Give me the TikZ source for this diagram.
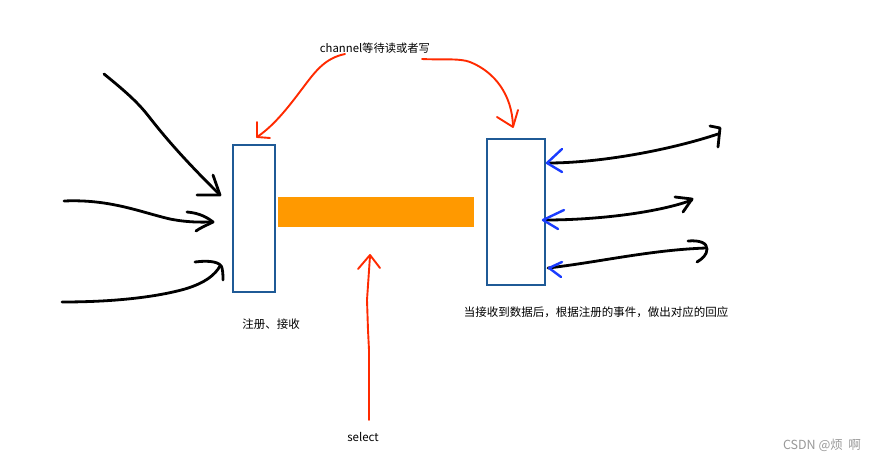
\documentclass[tikz,border=0pt]{standalone}
\usepackage{fontspec}
\setmainfont{Noto Sans CJK SC}
\begin{document}
\begin{tikzpicture}[x=1pt,y=-1pt,
  box/.style={draw=boxblue,line width=2.2pt,fill=white,inner sep=0pt},
  ink/.style={line width=2.8pt,line cap=round,line join=round},
  redink/.style={draw=penred,line width=1.9pt,line cap=round,line join=round},
  blueink/.style={draw=penblue,line width=2.4pt,line cap=round,line join=round},
  lbl/.style={inner sep=0pt,font=\fontsize{11.5}{13}\selectfont}]
\definecolor{boxblue}{HTML}{1F5A96}
\definecolor{barorange}{HTML}{FF9900}
\definecolor{penred}{HTML}{FF2A00}
\definecolor{penblue}{HTML}{1A3CFF}
\useasboundingbox[fill=white] (0,0) rectangle (883,463);

% boxes and bar
\node[box,minimum width=42pt,minimum height=147pt,anchor=north west] (L) at (232,144) {};
\node[box,minimum width=58pt,minimum height=146pt,anchor=north west] (R) at (486,138) {};
\node[fill=barorange,inner sep=0pt,minimum width=196pt,minimum height=30pt,anchor=north west] (bar) at (278,197) {};

% labels
\node[lbl,font=\fontsize{11.3}{13}\selectfont] (chan) at (375,48) {channel等待读或者写};
\node[lbl] (reg) at (271,324) {注册、接收};
\node[lbl] (resp) at (596,312) {当接收到数据后，根据注册的事件，做出对应的回应};
\node[lbl] (sel) at (363,437) {select};
\node[lbl,text=gray!80,font=\fontsize{12.5}{14}\selectfont] (csdn) at (822,445) {CSDN @烦\ \ 啊};

% left black arrows
\coordinate (a1) at (104,74);
\coordinate (a2) at (64,201);
\coordinate (a3) at (62,302);
\draw[ink] (a1) .. controls (130,95) and (140,105) .. (150,118) .. controls (175,150) and (200,175) .. (220,195);
\draw[ink] (197,195) -- (220,195) -- (213,175);
\draw[ink] (a2) .. controls (110,199) and (140,212) .. (170,219) .. controls (190,223) and (205,222) .. (213,222);
\draw[ink] (187,212) .. controls (200,213) and (208,218) .. (213,222) .. controls (205,226) and (200,228) .. (196,231);
\draw[ink] (a3) .. controls (120,302) and (160,296) .. (185,289) .. controls (205,283) and (215,275) .. (220,266);
\draw[ink] (195,262) .. controls (210,260) and (221,262) .. (222,268) .. controls (223,272) and (223,277) .. (223,280);

% right black arrows with blue heads
\coordinate (b1) at (718,134);
\coordinate (b2) at (692,200);
\coordinate (b3) at (706,248);
\draw[ink] (548,163) .. controls (600,163) and (670,150) .. (b1);
\draw[ink] (710,126) -- (720,128) -- (718,147);
\draw[ink] (545,220) .. controls (600,220) and (660,212) .. (b2);
\draw[ink] (675,197) -- (692,199) -- (683,212);
\draw[ink] (548,268) .. controls (600,262) and (650,250) .. (b3);
\draw[ink] (688,241) .. controls (700,240) and (707,243) .. (707,249) .. controls (707,255) and (702,259) .. (697,262);
\draw[blueink] (562,149) -- (547,163) -- (562,172);
\draw[blueink] (564,210) -- (543,220) -- (558,229);
\draw[blueink] (562,262) -- (549,268) -- (561,277);

% red arrows
\coordinate (r1) at (345,54);
\coordinate (r2) at (422,59);
\coordinate (r3) at (369,420);
\draw[redink] (r1) .. controls (325,58) and (315,72) .. (305,85) .. controls (290,105) and (275,125) .. (257,137);
\draw[redink] (257,122) -- (257,137) -- (270,138);
\draw[redink] (r2) .. controls (440,60) and (460,58) .. (470,62) .. controls (495,72) and (512,95) .. (513,126);
\draw[redink] (497,117) -- (513,127) -- (518,110);
\draw[redink] (r3) -- (369,350) -- (368,330) -- (367,300) -- (370,256);
\draw[redink] (358,269) -- (370,255) -- (380,268);
\end{tikzpicture}
\end{document}
